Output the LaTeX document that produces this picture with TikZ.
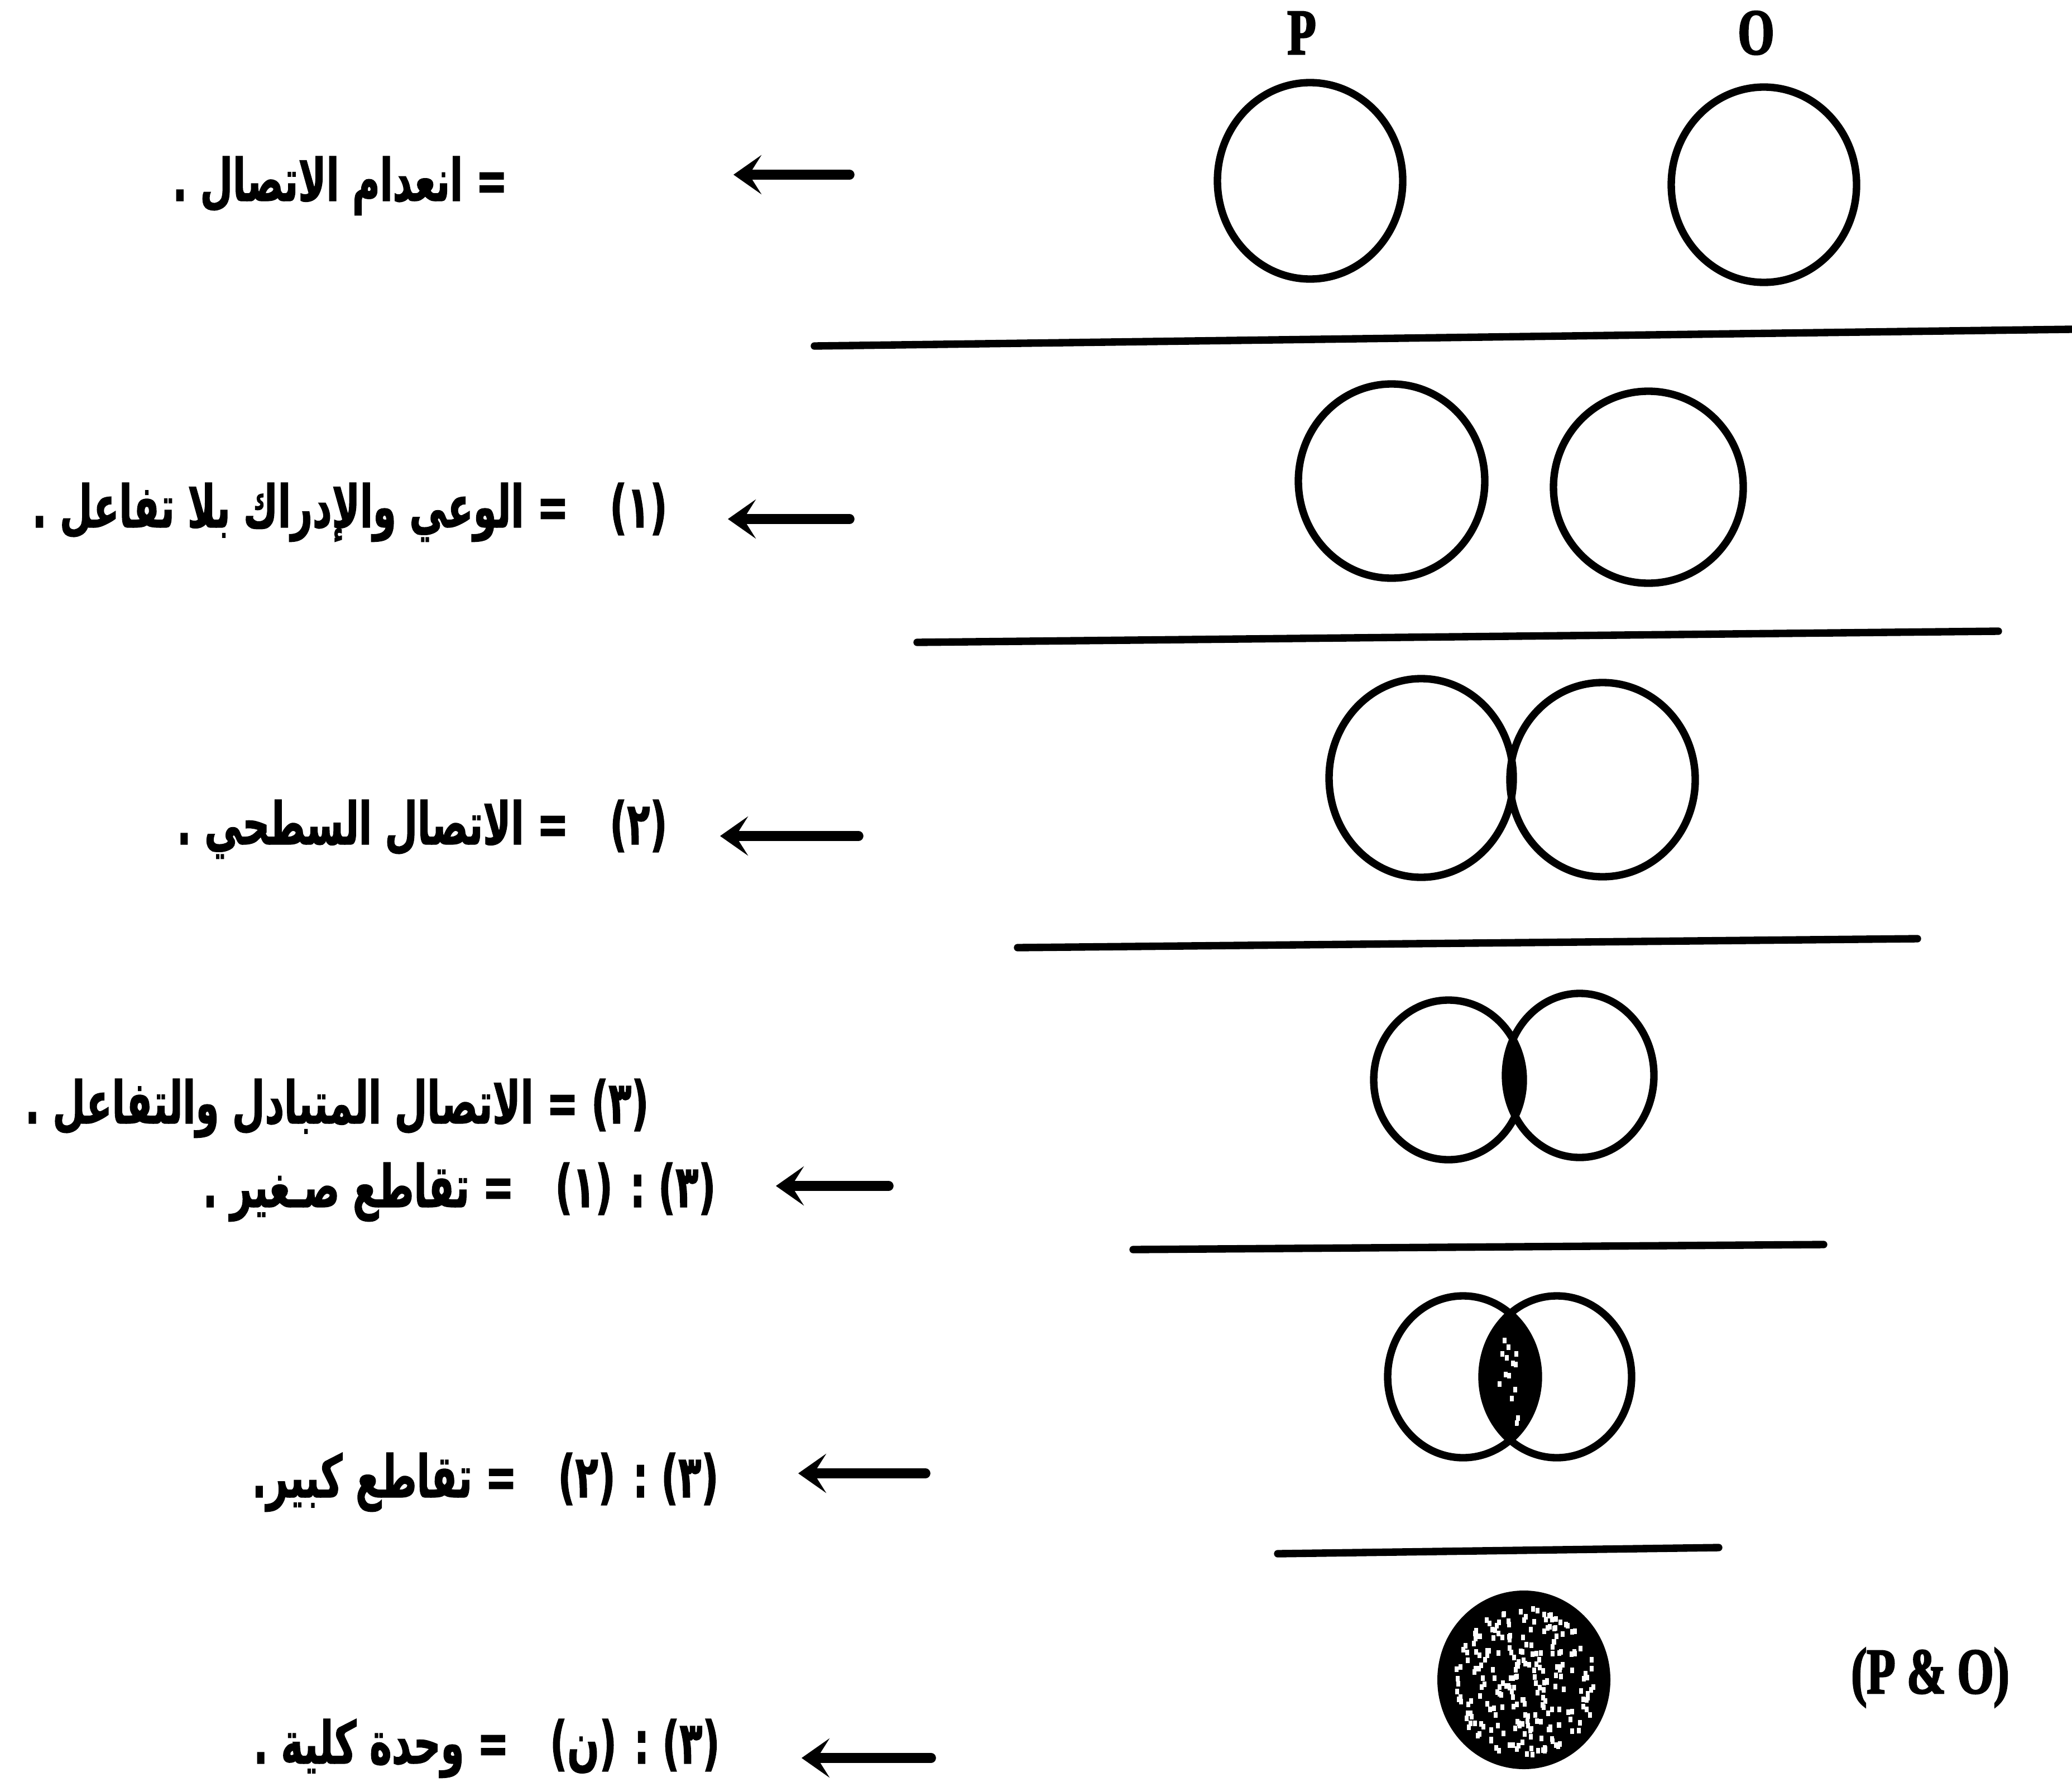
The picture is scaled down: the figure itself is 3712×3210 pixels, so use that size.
\documentclass[tikz,border=0pt]{standalone}
\usepackage{fontspec}
\setmainfont{Liberation Serif}
\newfontfamily\latfont[FakeStretch=0.72,FakeBold=2.5]{Liberation Serif Bold}
\newfontfamily\arabicfont[Script=Arabic,FakeStretch=0.64,FakeBold=1.2]{DejaVu Sans Bold}
\TeXXeTstate=1
\usetikzlibrary{arrows.meta}

\begin{document}
\begin{tikzpicture}[x=0.1mm,y=-0.1mm,
	ring/.style={line width=3.8pt},
	rule/.style={line width=3.8pt,line cap=round},
	pointer/.style={line width=5pt,line cap=round,-{Stealth[length=5mm,width=7mm,inset=2.2mm]}},
	arlabel/.style={anchor=base east,inner sep=0pt,font=\arabicfont\fontsize{30}{36}\selectfont},
	latlabel/.style={inner sep=0pt,font=\latfont\fontsize{33}{38}\selectfont}]
	\useasboundingbox (0,0) rectangle (3712,3210);
	%\draw[color=gray,step=100, help lines,opacity=0.3] (0,0) grid (3712,3210); %help grids
	\def\rtl#1{\beginR #1\endR}
	\def\gap{\hspace{0.7em}}
	\def\pair#1#2#3#4#5#6#7#8{
		\draw[ring] (#1,#2) ellipse [x radius=#3, y radius=#4];
		\draw[ring] (#5,#6) ellipse [x radius=#7, y radius=#8];
	}
	\def\specks#1#2#3#4#5{
		\foreach \i in {1,...,#5}{
			\pgfmathsetmacro\ang{rnd*360}
			\pgfmathsetmacro\rr{sqrt(rnd)}
			\pgfmathsetmacro\px{#1+\rr*#3*cos(\ang)}
			\pgfmathsetmacro\py{#2+\rr*#4*sin(\ang)}
			\fill[white] (\px,\py) rectangle ++(7,10);
		}
	}
	% heads
	\node[latlabel] (p) at (2332,59) {P};
	\node[latlabel] (o) at (3146,59) {O};
	% circles
	\pair{2347}{324}{166}{176}{3160}{331}{166}{175};
	\draw[rule] (1459,620)--(3712,590);
	\pair{2493}{862}{167}{174}{2953}{873}{170}{172};
	\draw[rule] (1643,1151)--(3580,1131);
	\pair{2546}{1394}{165}{178}{2871}{1397}{166}{174};
	\draw[rule] (1823,1698)--(3435,1682);
	\begin{scope}
		\clip (2595,1935) ellipse [x radius=134, y radius=143];
		\fill (2830,1927) ellipse [x radius=133, y radius=147];
	\end{scope}
	\pair{2595}{1935}{134}{143}{2830}{1927}{133}{147};
	\draw[rule] (2030,2239)--(3267,2230);
	\pgfmathsetseed{17}
	\begin{scope}
		\clip (2621,2467) ellipse [x radius=135, y radius=145];
		\fill (2789,2467) ellipse [x radius=134, y radius=145];
	\end{scope}
	\specks{2706}{2467}{24}{90}{14}
	\pair{2621}{2467}{135}{145}{2789}{2467}{134}{145};
	\draw[rule] (2289,2784)--(3079,2773);
	% whole unit
	\fill (2730,3010) ellipse [x radius=155, y radius=160];
	\specks{2730}{3010}{128}{134}{240}
	\node[latlabel] (po) at (3458,3006) {(P \& O)};
	% captions
	\node[arlabel] (t0) at (910,360) {\rtl{= انعدام الاتصال .}};
	\node[arlabel] (t1) at (1196,945) {\rtl{(١)\gap= الوعي والإدراك بلا تفاعل .}};
	\node[arlabel] (t2) at (1196,1513) {\rtl{(٢)\gap= الاتصال السطحي .}};
	\node[arlabel] (t3) at (1163,2013) {\rtl{(٣) = الاتصال المتبادل والتفاعل .}};
	\node[arlabel] (t4) at (1283,2163) {\rtl{(٣) : (١)\gap= تقاطع صـغير .}};
	\node[arlabel] (t5) at (1288,2683) {\rtl{(٣) : (٢)\gap= تقاطع كبير.}};
	\node[arlabel] (t6) at (1290,3160) {\rtl{(٣) : (ن)\gap= وحدة كلية .}};
	% arrows
	\coordinate (s0) at (1522,313); \coordinate (e0) at (1314,313);
	\coordinate (s1) at (1522,930); \coordinate (e1) at (1304,930);
	\coordinate (s2) at (1538,1498); \coordinate (e2) at (1290,1498);
	\coordinate (s4) at (1592,2125); \coordinate (e4) at (1390,2125);
	\coordinate (s5) at (1658,2640); \coordinate (e5) at (1430,2640);
	\coordinate (s6) at (1668,3150); \coordinate (e6) at (1436,3150);
	\foreach \k in {0,1,2,4,5,6}{
		\draw[pointer] (s\k)--(e\k);
	}
\end{tikzpicture}
\end{document}
